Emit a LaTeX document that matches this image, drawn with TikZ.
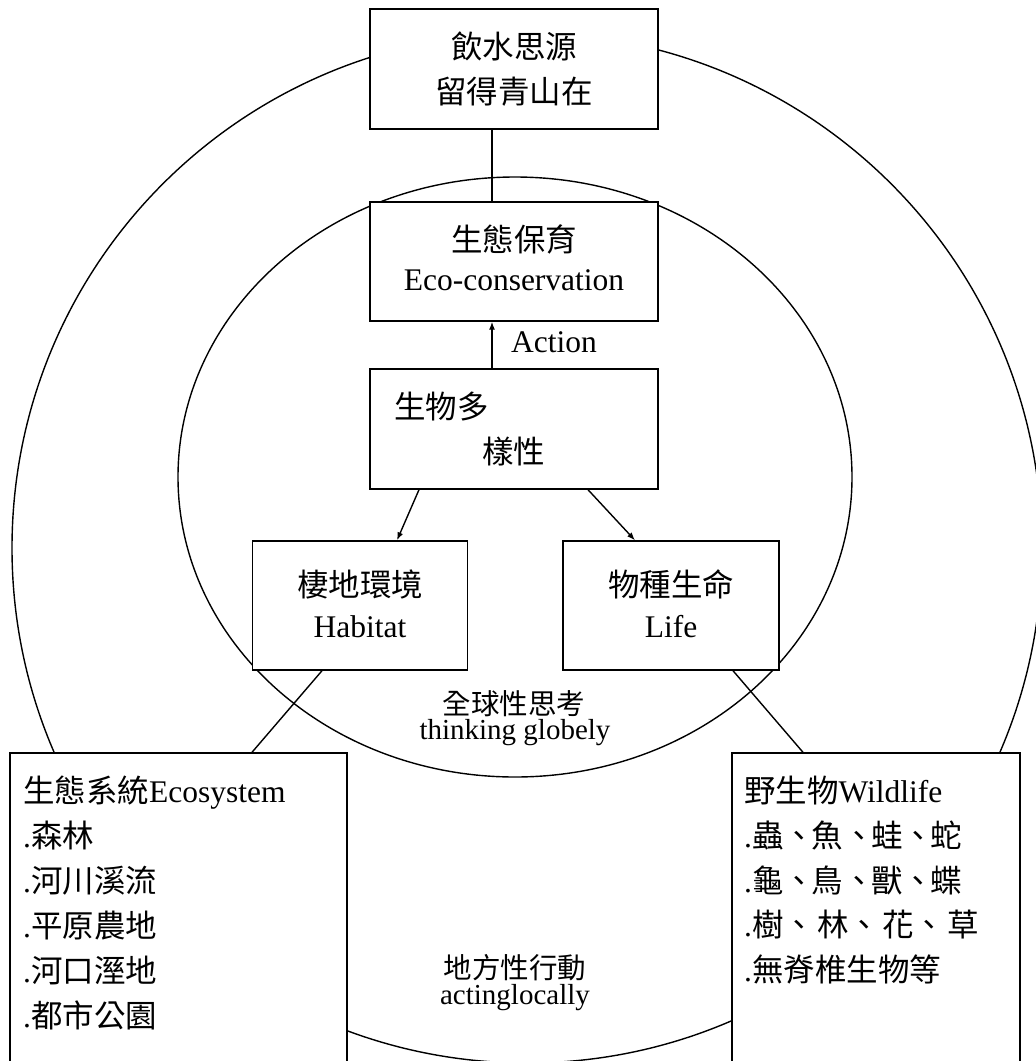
\documentclass[tikz,border=0pt]{standalone}
\usepackage{fontspec}
\setmainfont{Liberation Serif}
\newfontfamily\cjk{Noto Sans CJK TC}
\usetikzlibrary{arrows.meta}
\begin{document}
\begin{tikzpicture}[x=1pt,y=-1pt,
  box/.style={draw, line width=1.4pt, fill=white, inner sep=0pt},
  conn/.style={line width=1.4pt},
  arr/.style={conn, -{Latex[length=8pt,width=6pt]}},
  txt/.style={inner sep=0pt, font=\fontsize{31.5}{38}\selectfont},
  ctxt/.style={inner sep=0pt, font=\fontsize{31.5}{38}\selectfont\cjk},
  stxt/.style={inner sep=0pt, font=\fontsize{29}{34}\selectfont},
  sctxt/.style={inner sep=0pt, font=\fontsize{28.5}{34}\selectfont\cjk}
]
\useasboundingbox (0,0) rectangle (1036,1061);
\clip (0,0) rectangle (1036,1061);
\fill[white] (0,0) rectangle (1036,1061);

% circles
\draw[conn] (527,548) circle[radius=515pt];
\draw[conn] (515,477) ellipse[x radius=337pt, y radius=300pt];

% boxes
\node[box, minimum width=288pt, minimum height=120pt] (top) at (514,69) {};
\node[box, minimum width=288pt, minimum height=119pt] (eco) at (514,261.5) {};
\node[box, minimum width=288pt, minimum height=120pt] (bio) at (514,429) {};
\node[box, minimum width=215pt, minimum height=129pt] (hab) at (360,605.5) {};
\node[box, minimum width=216pt, minimum height=129pt] (life) at (671,605.5) {};
\node[box, minimum width=337pt, minimum height=367pt] (lbox) at (178.5,936.5) {};
\node[box, minimum width=288pt, minimum height=367pt] (rbox) at (876,936.5) {};

% connectors
\draw[conn] ([xshift=-22pt]top.south) -- ([xshift=-22pt]eco.north);
\draw[arr] ([xshift=-22pt]bio.north) -- ([xshift=-22pt]eco.south);
\draw[arr] ([xshift=-95pt]bio.south) -- ([xshift=37pt]hab.north);
\draw[arr] ([xshift=74pt]bio.south) -- ([xshift=-36pt]life.north);
\draw[conn] ([xshift=-38pt]hab.south) -- ([xshift=73.5pt]lbox.north);
\draw[conn] ([xshift=62pt]life.south) -- ([xshift=-73pt]rbox.north);

% texts
\node[ctxt] (t1) at (514,46) {飲水思源};
\node[ctxt] (t2) at (514,92) {留得青山在};
\node[ctxt] (e1) at (514,239) {生態保育};
\node[txt, anchor=base] (e2) at (514,290) {Eco-conservation};
\node[txt, anchor=base west] (act) at (511,352) {Action};
\node[ctxt, anchor=west] (b1) at (394,407) {生物多};
\node[ctxt, anchor=west] (b2) at (482,452) {樣性};
\node[ctxt] (h1) at (360,584) {棲地環境};
\node[txt, anchor=base] (h2) at (360,637) {Habitat};
\node[ctxt] (f1) at (671,584) {物種生命};
\node[txt, anchor=base] (f2) at (671,637) {Life};
\node[sctxt] (g1) at (514,704) {全球性思考};
\node[stxt, anchor=base] (g2) at (515,739) {thinking globely};
\node[sctxt] (a1) at (515,968) {地方性行動};
\node[stxt, anchor=base] (a2) at (515,1004) {actinglocally};

\node[txt, anchor=base west] (l1) at (23,802) {{\cjk 生態系統}Ecosystem};
\node[txt, anchor=base west] (l2) at (23,847) {.{\cjk 森林}};
\node[txt, anchor=base west] (l3) at (23,892) {.{\cjk 河川溪流}};
\node[txt, anchor=base west] (l4) at (23,937) {.{\cjk 平原農地}};
\node[txt, anchor=base west] (l5) at (23,982) {.{\cjk 河口溼地}};
\node[txt, anchor=base west] (l6) at (23,1027) {.{\cjk 都市公園}};

\node[txt, anchor=base west] (r1) at (744,802) {{\cjk 野生物}Wildlife};
\node[txt, anchor=base west] (r2) at (744,847) {.{\cjk 蟲、\hspace{-3.5pt}魚、\hspace{-3.5pt}蛙、\hspace{-3.5pt}蛇}};
\node[txt, anchor=base west] (r3) at (744,892) {.{\cjk 龜、\hspace{-3.5pt}鳥、\hspace{-3.5pt}獸、\hspace{-3.5pt}蝶}};
\node[txt, anchor=base west] (r4) at (744,936) {.{\cjk 樹、\hspace{2pt}林、\hspace{2pt}花、\hspace{2pt}草}};
\node[txt, anchor=base west] (r5) at (744,981) {.{\cjk 無脊椎生物等}};
\end{tikzpicture}
\end{document}
